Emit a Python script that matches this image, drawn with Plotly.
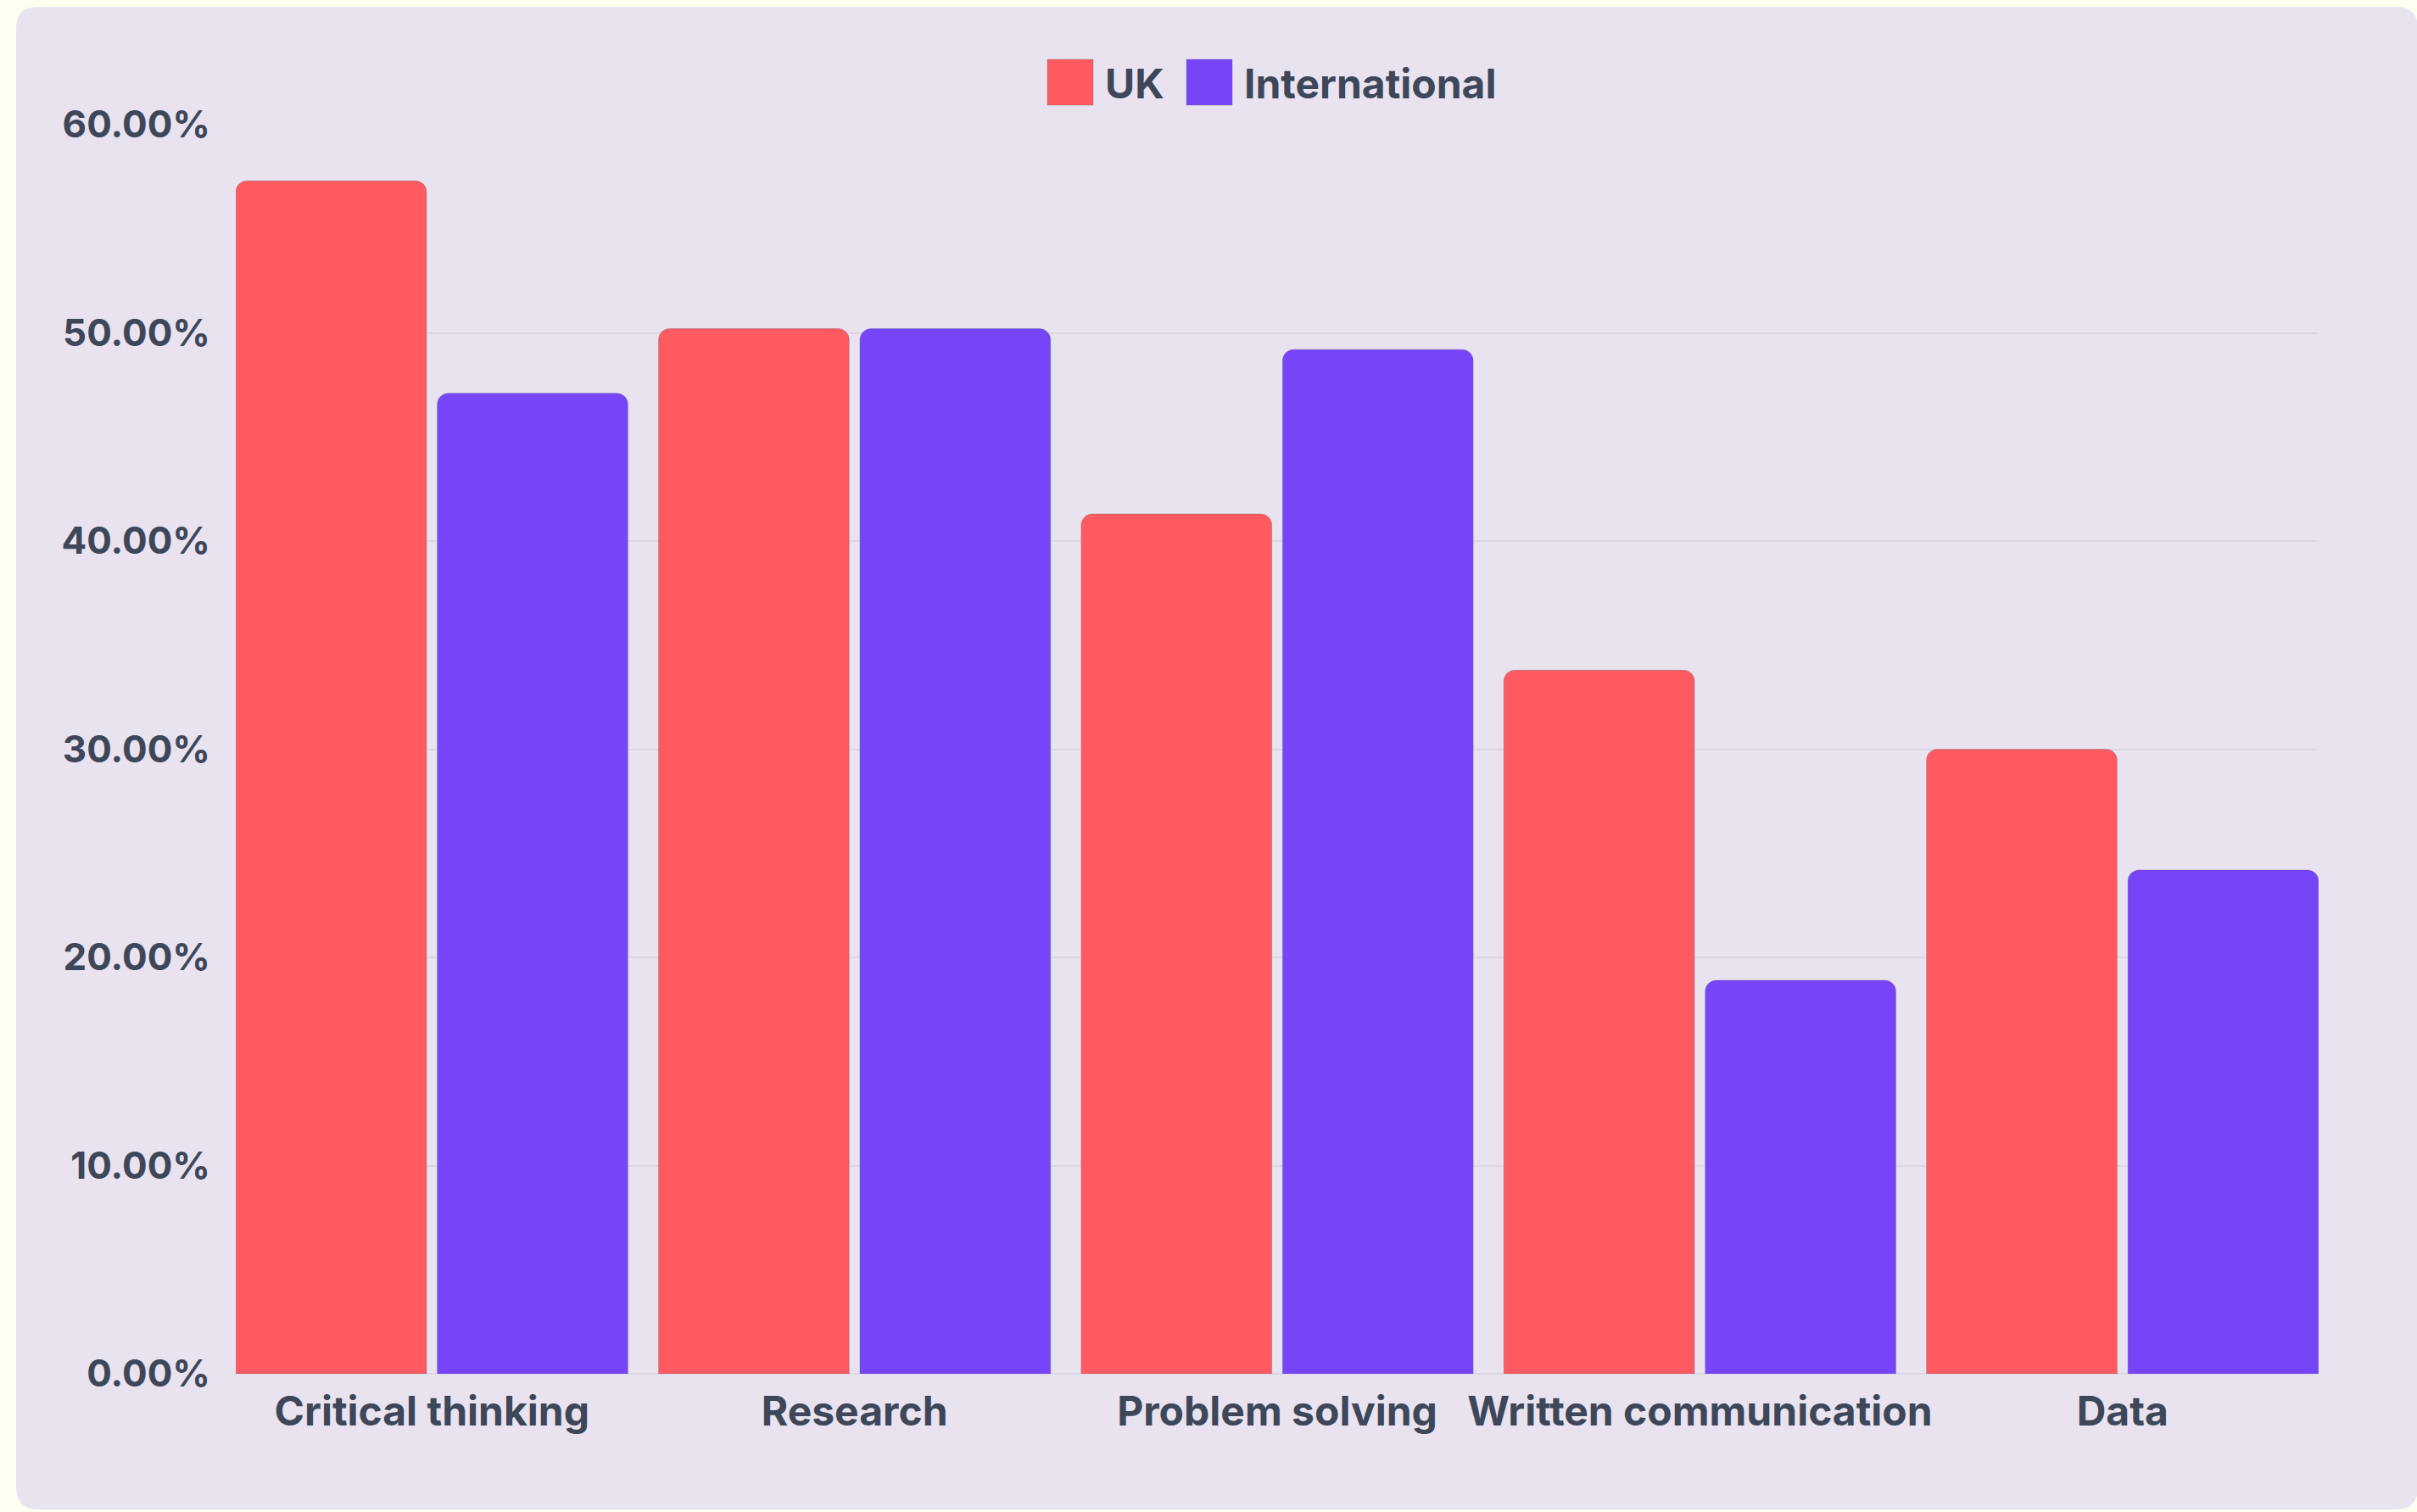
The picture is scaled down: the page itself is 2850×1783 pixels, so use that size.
import plotly.graph_objects as go

# ---- data ----
categories = ["Critical thinking", "Research", "Problem solving", "Written communication", "Data"]
uk_values = [57.3, 50.2, 41.3, 33.8, 30.0]
intl_values = [47.1, 50.2, 49.2, 18.9, 24.2]
series_names = ["UK", "International"]
y_ticks = [0, 10, 20, 30, 40, 50, 60]
y_tick_labels = [f"{v:.2f}%" for v in y_ticks]

# ---- styling ----
W, H = 2850, 1783
ML, MR, MT, MB = 278, W - 2734, 147, H - 1620
PW, PH = W - ML - MR, H - MT - MB
UK_COLOR = "#FF5A5F"
INTL_COLOR = "#7645F8"
TEXT = "#3D4759"
PANEL = "#E8E3EF"
PAGE = "#FEFFF0"
GRID = "#DCD6E3"
FONT = "Inter"
FS = 48
FS_Y = 44


def px_x(p):
    return (p - ML) / PW


def px_y(p):
    return (H - MB - p) / PH


def rounded_rect(x0, y0, x1, y1, r):
    rx, ry = r / PW, r / PH
    X0, X1 = px_x(x0), px_x(x1)
    YT, YB = px_y(y0), px_y(y1)
    return (f"M{X0+rx},{YT} L{X1-rx},{YT} Q{X1},{YT} {X1},{YT-ry} "
            f"L{X1},{YB+ry} Q{X1},{YB} {X1-rx},{YB} "
            f"L{X0+rx},{YB} Q{X0},{YB} {X0},{YB+ry} "
            f"L{X0},{YT-ry} Q{X0},{YT} {X0+rx},{YT} Z")


fig = go.Figure()
for name, vals, col in [(series_names[0], uk_values, UK_COLOR),
                        (series_names[1], intl_values, INTL_COLOR)]:
    fig.add_trace(go.Bar(
        name=name, x=categories, y=vals,
        marker=dict(color=col, cornerradius=13,
                    line=dict(color="rgba(110,100,125,0.35)", width=1)),
        showlegend=False,
    ))

shapes = [dict(type="path", xref="paper", yref="paper", layer="below",
               path=rounded_rect(19, 8, 2851, 1780, 26),
               fillcolor=PANEL, line=dict(width=0))]

legend_items = [(series_names[0], UK_COLOR, 1235, 1301),
                (series_names[1], INTL_COLOR, 1399, 1465)]
annotations = []
for name, col, sx, tx in legend_items:
    shapes.append(dict(type="rect", xref="paper", yref="paper",
                       x0=px_x(sx), x1=px_x(sx + 54), y0=px_y(124), y1=px_y(70),
                       fillcolor=col, line=dict(color="rgba(110,100,125,0.35)", width=1)))
    annotations.append(dict(xref="paper", yref="paper", x=px_x(tx), y=px_y(99),
                            xanchor="left", yanchor="middle", showarrow=False,
                            text=f"<b>{name}</b>",
                            font=dict(family=FONT, size=FS, color=TEXT)))

fig.update_layout(
    width=W, height=H,
    margin=dict(l=ML, r=MR, t=MT, b=MB, pad=0),
    paper_bgcolor=PAGE, plot_bgcolor="rgba(0,0,0,0)",
    barmode="group", bargap=0.047, bargroupgap=0.0535,
    shapes=shapes, annotations=annotations,
    font=dict(family=FONT, color=TEXT, size=FS, weight="bold"),
)
fig.update_xaxes(
    type="category", range=[-0.464, 4.464], showgrid=False, zeroline=False,
    showline=False, ticks="", ticklabelstandoff=12,
    tickfont=dict(family=FONT, size=FS, color=TEXT, weight="bold"),
)
fig.update_yaxes(
    range=[0, 60], tickmode="array", tickvals=y_ticks, ticktext=y_tick_labels,
    showgrid=True, gridcolor=GRID, gridwidth=2, zeroline=True,
    zerolinecolor=GRID, zerolinewidth=2, showline=False, ticks="",
    ticklabelstandoff=29,
    tickfont=dict(family=FONT, size=FS_Y, color=TEXT, weight="bold"),
)

fig.write_html("out.html")
